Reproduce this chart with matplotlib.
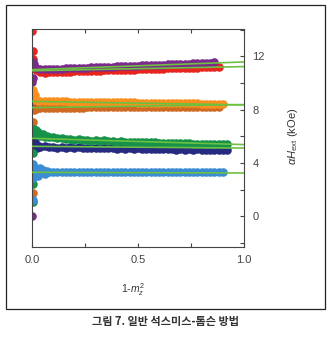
import matplotlib
matplotlib.use("Agg")
import matplotlib.pyplot as plt
from matplotlib.patches import Rectangle
from matplotlib.ticker import MultipleLocator

plt.rcParams['font.family'] = ['Liberation Sans', 'DejaVu Sans']
plt.rcParams['mathtext.fontset'] = 'custom'
plt.rcParams['mathtext.rm'] = 'Liberation Sans'
plt.rcParams['mathtext.it'] = 'Liberation Sans:italic'

# ---------------- data ----------------
x_grid = [0.00, 0.02, 0.04, 0.06, 0.08, 0.10, 0.12, 0.14, 0.16, 0.18,
          0.20, 0.22, 0.24, 0.26, 0.28, 0.30, 0.32, 0.34, 0.36, 0.38,
          0.40, 0.42, 0.44, 0.46, 0.48, 0.50, 0.52, 0.54, 0.56, 0.58,
          0.60, 0.62, 0.64, 0.66, 0.68, 0.70, 0.72, 0.74, 0.76, 0.78,
          0.80, 0.82, 0.84, 0.86, 0.88, 0.90, 0.92]

red_y = [11.20, 10.95, 10.80, 10.78, 10.80, 10.82, 10.83, 10.84, 10.85, 10.86,
         10.87, 10.88, 10.89, 10.90, 10.91, 10.92, 10.93, 10.94, 10.95, 10.96,
         10.97, 10.98, 10.99, 11.00, 11.01, 11.02, 11.03, 11.04, 11.05, 11.06,
         11.07, 11.08, 11.09, 11.10, 11.11, 11.12, 11.13, 11.14, 11.15, 11.16,
         11.17, 11.18, 11.19, 11.20, 11.20]
purple_y = [11.30, 11.10, 11.02, 11.02, 11.04, 11.05, 11.06, 11.08, 11.09, 11.10,
            11.12, 11.13, 11.14, 11.15, 11.17, 11.18, 11.19, 11.21, 11.22, 11.23,
            11.24, 11.26, 11.27, 11.28, 11.30, 11.31, 11.32, 11.33, 11.35, 11.36,
            11.37, 11.38, 11.40, 11.41, 11.42, 11.44, 11.45, 11.46, 11.48, 11.49,
            11.50, 11.52, 11.53, 11.54]
brown_y = [8.05, 8.08, 8.12, 8.13, 8.13, 8.14, 8.14, 8.15, 8.15, 8.15,
           8.16, 8.16, 8.16, 8.17, 8.17, 8.17, 8.17, 8.18, 8.18, 8.18,
           8.18, 8.18, 8.19, 8.19, 8.19, 8.19, 8.19, 8.20, 8.20, 8.20,
           8.20, 8.20, 8.21, 8.21, 8.21, 8.21, 8.21, 8.22, 8.22, 8.22,
           8.22, 8.22, 8.23, 8.23, 8.23]
orange_y = [8.85, 8.72, 8.68, 8.66, 8.65, 8.64, 8.63, 8.62, 8.62, 8.61,
            8.61, 8.60, 8.60, 8.59, 8.59, 8.58, 8.58, 8.57, 8.57, 8.56,
            8.56, 8.55, 8.55, 8.54, 8.54, 8.53, 8.53, 8.52, 8.52, 8.51,
            8.51, 8.50, 8.50, 8.49, 8.49, 8.48, 8.48, 8.47, 8.47, 8.47,
            8.46, 8.46, 8.46, 8.45, 8.45, 8.44]
navy_y = [5.40, 5.30, 5.22, 5.26, 5.18, 5.23, 5.16, 5.21, 5.14, 5.19,
          5.13, 5.18, 5.12, 5.16, 5.11, 5.15, 5.10, 5.14, 5.09, 5.12,
          5.08, 5.11, 5.07, 5.10, 5.06, 5.09, 5.05, 5.08, 5.04, 5.07,
          5.03, 5.06, 5.02, 5.05, 5.01, 5.04, 5.00, 5.03, 5.00, 5.02,
          4.99, 5.01, 4.98, 5.00, 4.98, 4.99, 4.98]
green_y = [6.25, 6.15, 6.05, 5.98, 5.92, 5.94, 5.84, 5.88, 5.79, 5.83,
           5.75, 5.79, 5.71, 5.75, 5.68, 5.72, 5.65, 5.69, 5.63, 5.66,
           5.61, 5.63, 5.59, 5.61, 5.57, 5.59, 5.55, 5.57, 5.54, 5.55,
           5.52, 5.53, 5.50, 5.51, 5.49, 5.49, 5.47, 5.47, 5.46, 5.45,
           5.44, 5.44, 5.43, 5.42, 5.42, 5.41, 5.40]
blue_y = [3.30, 3.25, 3.35, 3.30, 3.32, 3.33, 3.30, 3.33, 3.31, 3.33,
          3.31, 3.33, 3.31, 3.32, 3.31, 3.32, 3.31, 3.32, 3.30, 3.32,
          3.30, 3.32, 3.30, 3.31, 3.30, 3.31, 3.30, 3.31, 3.30, 3.31,
          3.30, 3.31, 3.30, 3.30, 3.30, 3.30, 3.30, 3.30, 3.30, 3.30,
          3.30, 3.30, 3.30, 3.30, 3.30, 3.30]

# scattered points near 1 - m_z^2 = 0
red_ex_x = [0.000, 0.004, 0.006]
red_ex_y = [13.90, 12.40, 11.80]
purple_ex_x = [0.005, 0.000, 0.003, 0.000, 0.000, 0.000, 0.010]
purple_ex_y = [11.60, 10.05, 10.40, 8.40, 3.50, 0.00, 11.40]
orange_ex_x = [0.005, 0.008, 0.008, 0.010, 0.012]
orange_ex_y = [9.50, 9.20, 8.95, 8.75, 9.10]
brown_ex_x = [0.004, 0.000, 0.005, 0.010]
brown_ex_y = [7.10, 5.40, 1.75, 7.95]
navy_ex_x = [0.003, 0.010, 0.015, 0.025, 0.035]
navy_ex_y = [6.45, 6.00, 5.60, 5.15, 5.30]
green_ex_x = [0.004, 0.004, 0.004, 0.020, 0.030, 0.010, 0.050, 0.070]
green_ex_y = [4.75, 2.40, 1.10, 6.45, 6.30, 6.55, 6.20, 6.05]
blue_ex_x = [0.005, 0.000, 0.005, 0.030, 0.050, 0.060, 0.070, 0.040, 0.004, 0.020]
blue_ex_y = [3.95, 3.10, 2.90, 3.00, 3.45, 3.15, 3.40, 3.60, 1.25, 3.65]

# linear fits: value at x=0 and x=1
fit_x = [0.0, 1.0]
fit_purple = [11.00, 11.58]
fit_red = [10.92, 11.23]
fit_orange = [8.62, 8.36]
fit_brown = [8.15, 8.38]
fit_green = [5.85, 5.38]
fit_navy = [5.25, 5.12]
fit_blue = [3.30, 3.25]

# ---------------- colours ----------------
C_RED = '#e8241f'
C_PURPLE = '#7a2a8c'
C_ORANGE = '#f7901e'
C_BROWN = '#cf6a22'
C_NAVY = '#262a80'
C_GREEN = '#17924a'
C_BLUE = '#3b8dd3'
C_FIT = '#6cc040'

fig = plt.figure(figsize=(3.36, 3.37), dpi=100)
ax = fig.add_axes([32/336, 1 - 247/337, 212/336, 218/337])

S = 38
series = [
    (red_y, red_ex_x, red_ex_y, C_RED),
    (purple_y, purple_ex_x, purple_ex_y, C_PURPLE),
    (brown_y, brown_ex_x, brown_ex_y, C_BROWN),
    (orange_y, orange_ex_x, orange_ex_y, C_ORANGE),
    (navy_y, navy_ex_x, navy_ex_y, C_NAVY),
    (green_y, green_ex_x, green_ex_y, C_GREEN),
    (blue_y, blue_ex_x, blue_ex_y, C_BLUE),
]
for ys, ex_x, ex_y, col in series:
    ax.scatter(x_grid[:len(ys)], ys, s=S, color=col, linewidths=0, zorder=2)
    ax.scatter(ex_x, ex_y, s=S, color=col, linewidths=0, zorder=2)

for fy in [fit_purple, fit_red, fit_orange, fit_brown, fit_green, fit_navy, fit_blue]:
    ax.plot(fit_x, fy, color=C_FIT, lw=1.2, zorder=3, solid_capstyle='butt')

ax.set_xlim(0, 1)
ax.set_ylim(-2.3, 14.05)

ax.xaxis.set_major_locator(MultipleLocator(0.5))
ax.xaxis.set_minor_locator(MultipleLocator(0.25))
ax.yaxis.set_major_locator(MultipleLocator(4))
ax.yaxis.set_minor_locator(MultipleLocator(2))
ax.xaxis.set_major_formatter(matplotlib.ticker.FormatStrFormatter('%.1f'))

ax.yaxis.tick_right()
ax.yaxis.set_label_position('right')
ax.tick_params(axis='x', which='both', direction='in', top=True, bottom=True,
               length=3, width=0.8, color='#444444', labelsize=8, pad=6,
               labelcolor='#444444')
ax.tick_params(axis='y', which='both', direction='in', left=False, right=True,
               length=3, width=0.8, color='#444444', labelsize=8, pad=6,
               labelcolor='#444444')
for sp in ax.spines.values():
    sp.set_color('#444444')
    sp.set_linewidth(0.8)

fig.text(133/336, 1 - 290/337, r'1-$m_z^2$', fontsize=7.5, color='#333333',
         ha='center', va='center')
fig.text(293/336, 1 - 136/337, r'$\alpha H_{\rm ext}$ (kOe)', fontsize=8,
         color='#333333', rotation=90, ha='center', va='center')

fig.add_artist(Rectangle((6/336, 1 - 309/337), 319/336, 304/337,
                         transform=fig.transFigure, fill=False,
                         edgecolor='#222222', linewidth=0.9))

fig.text(166/336, 1 - 322/337, '그림 7. 일반 석스미스-톰슨 방법',
         family=['Noto Sans CJK KR', 'DejaVu Sans'], fontweight='bold',
         fontsize=8, color='#333333', ha='center', va='center')

fig.savefig('out.png', dpi=100)
